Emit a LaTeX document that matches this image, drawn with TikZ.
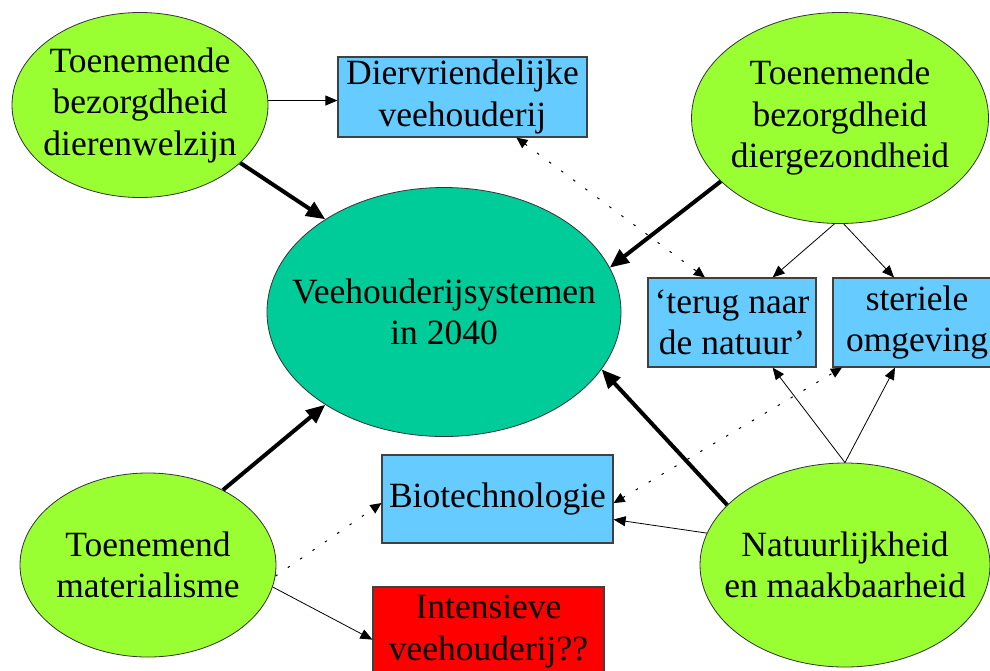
\documentclass[tikz,border=0pt]{standalone}
\usepackage{fontspec}
\setmainfont{Liberation Serif}
\usetikzlibrary{arrows.meta,shapes.geometric}
\definecolor{limegreen}{HTML}{99FF33}
\definecolor{tealgreen}{HTML}{00CC99}
\definecolor{skyblue}{HTML}{66CCFF}
\begin{document}
\begin{tikzpicture}[x=1pt,y=-1pt,
  every node/.style={font=\fontsize{35.5}{41.5}\selectfont, align=center, inner sep=0pt},
  ell/.style={ellipse, draw=black!80, line width=0.8pt, fill=limegreen},
  boxn/.style={rectangle, draw=black!75, line width=1.2pt, fill=skyblue},
  thinarr/.style={-{Triangle[length=12pt,width=10pt]}, line width=0.8pt},
  thickarr/.style={-{Triangle[length=19pt,width=16pt]}, line width=4pt},
  dots/.style={line width=1pt, dash pattern=on 2.5pt off 12.5pt},
  tip/.style={-{Triangle[length=11pt,width=10pt]}},
  tips/.style={{Triangle[length=11pt,width=10pt]}-{Triangle[length=11pt,width=10pt]}},
]
\useasboundingbox (0,0) rectangle (990,670);
\clip (0,0) rectangle (990,670);
\fill[white] (0,0) rectangle (990,670);

\node[ell, minimum width=256pt, minimum height=185pt, label=center:{Toenemende\\bezorgdheid\\dierenwelzijn}] (e1) at (140,105) {};
\node[ell, minimum width=297pt, minimum height=211pt, label=center:{Toenemende\\bezorgdheid\\diergezondheid}] (e2) at (840,118) {};
\node[ell, fill=tealgreen, minimum width=354pt, minimum height=249pt, label=center:{Veehouderijsystemen\\in 2040}] (c) at (444,312) {};
\node[ell, minimum width=256pt, minimum height=184pt, label=center:{Toenemend\\materialisme}] (e4) at (148,565) {};
\node[ell, minimum width=290pt, minimum height=204pt, label=center:{Natuurlijkheid\\en maakbaarheid}] (e5) at (845,565) {};

\node[boxn, minimum width=249pt, minimum height=80pt] (d) at (462.5,97) {Diervriendelijke\\veehouderij};
\node[boxn, minimum width=168pt, minimum height=89pt] (t) at (732,322.5) {‘terug naar\\de natuur’};
\node[boxn, minimum width=168pt, minimum height=89pt] (s) at (917,322.5) {steriele\\omgeving};
\node[boxn, minimum width=231pt, minimum height=88pt] (b) at (497.5,499) {Biotechnologie};
\node[boxn, fill=red, minimum width=231pt, minimum height=89pt] (i) at (488.5,631.5) {Intensieve\\veehouderij??};

\draw[thinarr] (e1.2) -- (e1.2 -| d.west);
\draw[thickarr] (e1.330) -- (c.142);
\draw[thickarr] (e2.208) -- (c.15);
\draw[thinarr] (e2.267) -- (t.48);
\draw[thinarr] (e2.272) -- (s.117);
\draw[thinarr] (e5.north) -- (t.312);
\draw[thinarr] (e5.north) -- (s.244);
\draw[thickarr] (e5.153) -- (c.340);
\draw[thinarr] (e5.167) -- (b.350);
\draw[thickarr] (e4.45) -- (c.218);
\draw[dots, tip] (e4.355) -- (b.182);
\draw[thinarr] (e4.350) -- (i.184);
\draw[dots, tips] (d.323) -- (t.121);
\draw[dots, tips] (b.358) -- (s.211);
\end{tikzpicture}
\end{document}
